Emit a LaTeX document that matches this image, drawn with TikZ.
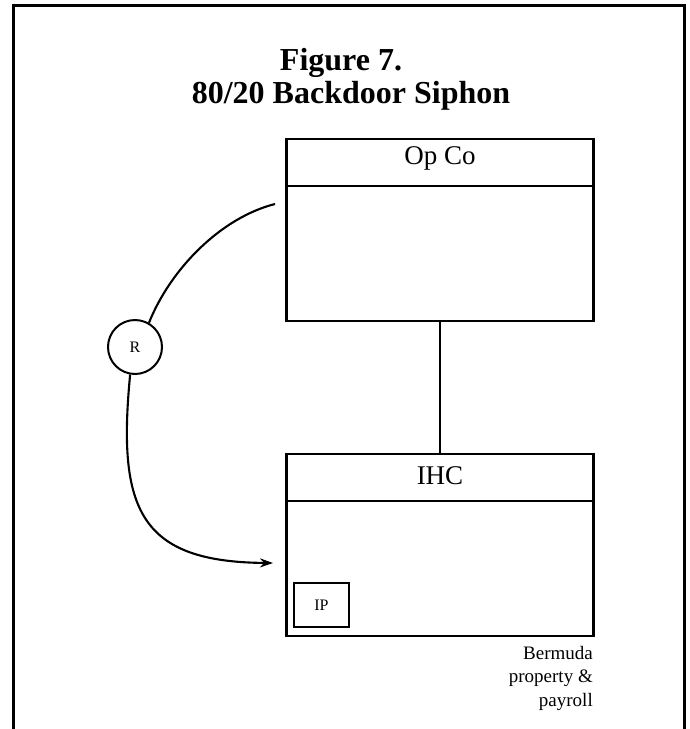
\documentclass[tikz,border=0pt]{standalone}
\usepackage{fontspec}
\setmainfont{Liberation Serif}
\usetikzlibrary{arrows.meta,calc}
\begin{document}
\begin{tikzpicture}[x=1pt,y=-1pt,
  entity/.style={draw,line width=2.4pt,minimum width=307pt,minimum height=182pt,inner sep=0pt},
  divider/.style={line width=2.3pt},
  headtext/.style={font=\fontsize{27}{30}\selectfont,inner sep=0pt},
  link/.style={line width=2.1pt},
  rnode/.style={draw,circle,line width=2pt,minimum size=54pt,inner sep=0pt,font=\fontsize{16}{18}\selectfont},
  ipbox/.style={draw,line width=1.4pt,minimum width=55pt,minimum height=44pt,inner sep=0pt,font=\fontsize{16}{18}\selectfont},
  titletext/.style={font=\bfseries\fontsize{32}{34}\selectfont,inner sep=0pt,anchor=base},
  notetext/.style={font=\fontsize{19}{23.5}\selectfont,align=right,inner sep=0pt,anchor=north east}
]
\useasboundingbox (0,0) rectangle (689,729);
\fill[white] (0,0) rectangle (689,729);
% outer frame
\draw[line width=3pt] (13,729) -- (13,5) -- (684,5) -- (684,729);
% title
\node[titletext] (t1) at (341,70) {Figure 7.};
\node[titletext] (t2) at (351,103) {80/20 Backdoor Siphon};
% Op Co
\node[entity] (opco) at (440,230) {};
\draw[divider] ($(opco.north west)+(0,48)$) -- ($(opco.north east)+(0,48)$);
\node[headtext] (opcolabel) at (440,158) {Op Co};
% IHC
\node[entity] (ihc) at (440,545) {};
\draw[divider] ($(ihc.north west)+(0,48)$) -- ($(ihc.north east)+(0,48)$);
\node[headtext] (ihclabel) at (440,476) {IHC};
\node[ipbox] (ip) at (321.5,605) {IP};
% connector
\draw[link] (opco.south) -- (ihc.north);
% R circle and curves
\node[rnode] (r) at (135,347) {R};
\coordinate (rstart) at (275,204);
\coordinate (rend) at (273,563);
\draw[link] (rstart) .. controls (220,218) and (170,270) .. (r.60);
\draw[link,-{Stealth[length=13pt,width=9pt]}] (r.-100) .. controls (117,510) and (140,562) .. (rend);
% note
\node[notetext] (note) at (593,646) {Bermuda\\property \&\\payroll};
\end{tikzpicture}
\end{document}
